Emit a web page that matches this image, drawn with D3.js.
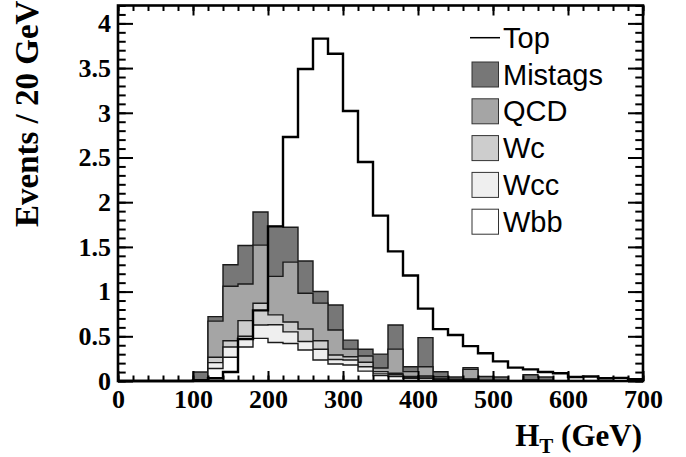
<!DOCTYPE html>
<html>
<head>
<meta charset="utf-8">
<script src="https://cdn.jsdelivr.net/npm/d3@7"></script>
<style>
  html, body { margin: 0; padding: 0; background: #fff; }
  svg { display: block; }
  .tick text { font-family: "Liberation Serif", "Times New Roman", serif; font-weight: bold; font-size: 26px; fill: #000; }
</style>
</head>
<body>
<svg id="chart" width="686" height="457"></svg>
<script>
// Bin lower edges (GeV), 20 GeV bins
const binEdges = [0,20,40,60,80,100,120,140,160,180,200,220,240,260,280,300,320,340,360,380,400,420,440,460,480,500,520,540,560,580,600,620,640,660,680];
const binWidth = 20;

// Series (events per 20 GeV)
const top_ = [0,0,0,0,0,0.01,0.03,0.10,0.47,0.79,1.73,2.73,3.49,3.83,3.66,3.02,2.45,1.85,1.45,1.18,0.81,0.58,0.515,0.39,0.31,0.22,0.15,0.13,0.10,0.086,0.045,0.05,0.03,0.035,0.02];
const wbb     = [0,0,0,0,0,0,0.14,0.265,0.38,0.477,0.43,0.42,0.347,0.235,0.19,0.179,0.11,0.06,0.05,0.03,0.03,0.02,0.01,0.02,0,0,0,0,0,0,0,0,0,0,0];
const wcc     = [0,0,0,0,0,0,0.065,0.115,0.12,0.149,0.20,0.13,0.095,0.12,0.05,0.056,0.05,0.02,0.02,0.01,0.013,0.004,0,0,0,0,0,0,0,0,0,0,0,0,0];
const wc      = [0,0,0,0,0,0,0.06,0.07,0.175,0.244,0.11,0.11,0.14,0.096,0.05,0.037,0.05,0.025,0.016,0.01,0.013,0.004,0,0,0,0,0,0,0,0,0,0,0,0,0];
const qcd     = [0,0,0,0,0,0.01,0.405,0.61,0.41,0.65,0.43,0.67,0.40,0.42,0.28,0.085,0.07,0.04,0.27,0.055,0.104,0.02,0.01,0.11,0.01,0.01,0,0.015,0.01,0,0,0,0,0,0];
const mistags = [0,0,0,0,0,0.09,0.05,0.24,0.43,0.37,0.56,0.39,0.36,0.13,0.28,0.10,0.075,0.156,0.27,0.055,0.325,0.056,0.025,0.02,0.04,0.035,0,0.055,0.035,0,0,0,0,0,0];

const stackNames  = ["Wbb","Wcc","Wc","QCD","Mistags"];
const stackColors = ["#ffffff","#efefef","#cdcdcd","#a5a5a5","#777777"];
const legendNames = ["Top","Mistags","QCD","Wc","Wcc","Wbb"];

const xTicks = [0,100,200,300,400,500,600,700];
const yTicks = [0,0.5,1,1.5,2,2.5,3,3.5,4];
const yTickLabels = ["0","0.5","1","1.5","2","2.5","3","3.5","4"];

const svg = d3.select("#chart");
const L = 118, R = 643, T = 5.5, B = 381;
const x = d3.scaleLinear().domain([0, 700]).range([L, R]);
const y = d3.scaleLinear().domain([0, 4.2]).range([B, T]);

const serif = '"Liberation Serif", "Times New Roman", serif';
const sans = '"Liberation Sans", Arial, Helvetica, sans-serif';

// cumulative stacks
const series = [wbb, wcc, wc, qcd, mistags];
const cum = [];
series.forEach((s, k) => {
  cum.push(s.map((v, i) => v + (k > 0 ? cum[k-1][i] : 0)));
});

function stepPts(vals) {
  const pts = binEdges.map((e, i) => ({e: e, v: vals[i]}));
  pts.push({e: binEdges[binEdges.length-1] + binWidth, v: vals[vals.length-1]});
  return pts;
}

const area = d3.area().curve(d3.curveStepAfter)
  .x(d => x(d.e)).y0(y(0)).y1(d => y(d.v));

const g = svg.append("g");
for (let k = cum.length - 1; k >= 0; k--) {
  g.append("path")
    .attr("d", area(stepPts(cum[k])))
    .attr("fill", stackColors[k])
    .attr("stroke", "#1a1a1a")
    .attr("stroke-width", 1.4)
    .attr("stroke-linejoin", "miter");
}

// Top line
const line = d3.line().curve(d3.curveStepAfter).x(d => x(d.e)).y(d => y(d.v));
g.append("path")
  .attr("d", line(stepPts(top_)))
  .attr("fill", "none")
  .attr("stroke", "#000")
  .attr("stroke-width", 2.4);

// Axes
const xMinor = d3.range(0, 701, 20);
const yMinor = d3.range(0, 4.2001, 0.1).map(v => +v.toFixed(2));

function noDomain(sel) { sel.select(".domain").remove(); sel.selectAll(".tick line").attr("stroke", "#000").attr("stroke-width", 2); }

svg.append("g").attr("transform", `translate(0,${B})`)
  .call(d3.axisBottom(x).tickValues(xTicks).tickSize(-10).tickPadding(9).tickFormat(d3.format("d")))
  .call(noDomain);
svg.append("g").attr("transform", `translate(0,${B})`)
  .call(d3.axisBottom(x).tickValues(xMinor).tickSize(-5.5).tickFormat(""))
  .call(noDomain);
svg.append("g").attr("transform", `translate(0,${T})`)
  .call(d3.axisTop(x).tickValues(xTicks).tickSize(-10).tickFormat(""))
  .call(noDomain);
svg.append("g").attr("transform", `translate(0,${T})`)
  .call(d3.axisTop(x).tickValues(xMinor).tickSize(-5.5).tickFormat(""))
  .call(noDomain);

svg.append("g").attr("transform", `translate(${L},0)`)
  .call(d3.axisLeft(y).tickValues(yTicks).tickSize(-15).tickPadding(7).tickFormat((d, i) => yTickLabels[i]))
  .call(noDomain);
svg.append("g").attr("transform", `translate(${L},0)`)
  .call(d3.axisLeft(y).tickValues(yMinor).tickSize(-7.7).tickFormat(""))
  .call(noDomain);
svg.append("g").attr("transform", `translate(${R},0)`)
  .call(d3.axisRight(y).tickValues(yTicks).tickSize(-15).tickFormat(""))
  .call(noDomain);
svg.append("g").attr("transform", `translate(${R},0)`)
  .call(d3.axisRight(y).tickValues(yMinor).tickSize(-7.7).tickFormat(""))
  .call(noDomain);

// Frame
svg.append("rect").attr("x", L).attr("y", T).attr("width", R - L).attr("height", B - T)
  .attr("fill", "none").attr("stroke", "#000").attr("stroke-width", 2.6);

// Axis titles
svg.append("text")
  .attr("transform", "translate(38,227) rotate(-90)")
  .attr("font-family", serif).attr("font-weight", "bold").attr("font-size", 33)
  .attr("text-anchor", "start")
  .text("Events / 20 GeV");

const xt = svg.append("text")
  .attr("x", 642).attr("y", 446)
  .attr("font-family", serif).attr("font-weight", "bold").attr("font-size", 31)
  .attr("text-anchor", "end");
xt.append("tspan").text("H");
xt.append("tspan").attr("font-size", 21).attr("dy", 7).text("T");
xt.append("tspan").attr("dy", -7).text(" (GeV)");

// Legend
const lg = svg.append("g");
const rowY0 = 37.7, rowStep = 36.8;
legendNames.forEach((name, i) => {
  const cy = rowY0 + i * rowStep;
  if (name === "Top") {
    lg.append("line").attr("x1", 470).attr("x2", 500).attr("y1", cy).attr("y2", cy)
      .attr("stroke", "#000").attr("stroke-width", 1.5);
  } else {
    const k = stackNames.indexOf(name);
    lg.append("rect").attr("x", 472).attr("y", cy - 12.5).attr("width", 26.5).attr("height", 25)
      .attr("fill", stackColors[k]).attr("stroke", "#333").attr("stroke-width", 1);
  }
  lg.append("text").attr("x", 503).attr("y", cy + 10)
    .attr("font-family", sans).attr("font-size", 29).attr("fill", "#000")
    .text(name);
});
</script>
</body>
</html>
